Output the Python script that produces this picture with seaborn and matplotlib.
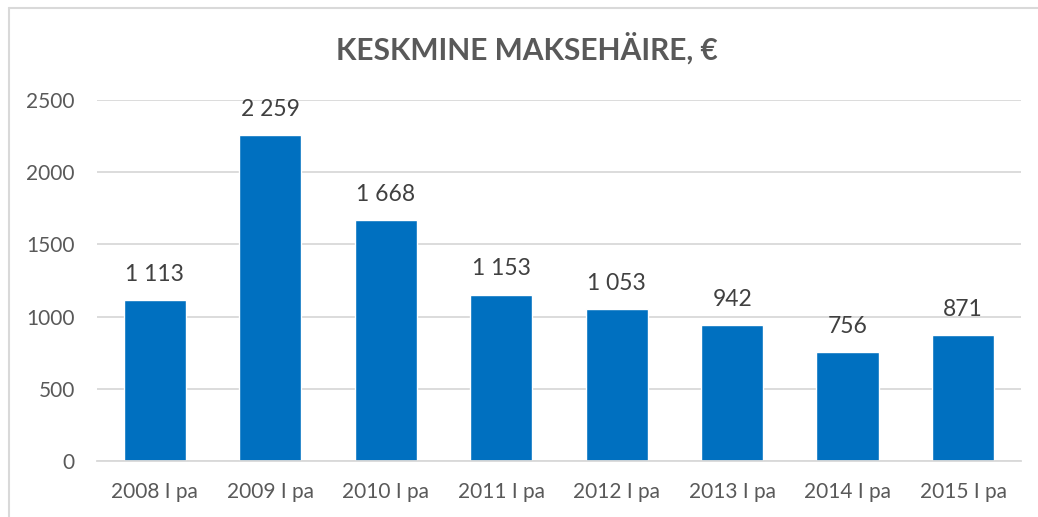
import matplotlib
matplotlib.use('Agg')
import matplotlib.pyplot as plt
import seaborn as sns
import pandas as pd
from matplotlib.lines import Line2D

# ------------------------------------------------------
# INPUTS
# ------------------------------------------------------

periods = ['2008 I pa', '2009 I pa', '2010 I pa', '2011 I pa',
           '2012 I pa', '2013 I pa', '2014 I pa', '2015 I pa']
values = [1113, 2259, 1668, 1153, 1053, 942, 756, 871]
yticks = [0, 500, 1000, 1500, 2000, 2500]

title = 'KESKMINE MAKSEHÄIRE, €'
bar_color = '#0070C0'
text_color = '#595959'
grid_color = '#D9D9D9'

# ------------------------------------------------------
# PLOT
# ------------------------------------------------------

sns.set_style('white')
plt.rcParams['font.family'] = ['Lato', 'DejaVu Sans']

df = pd.DataFrame({'period': periods, 'value': values})

fig = plt.figure(figsize=(10.38, 5.17), dpi=100)
ax = fig.add_axes([0.0935, 0.1083, 0.89, 0.6983])

sns.barplot(data=df, x='period', y='value', color=bar_color, width=0.54,
            saturation=1, ax=ax)

ax.set_ylim(0, 2500)
ax.set_xlim(-0.5, len(periods) - 0.5)
ax.set_yticks(yticks)
ax.set_yticklabels([str(t) for t in yticks])
ax.yaxis.grid(True, color=grid_color, linewidth=1.3)
ax.set_axisbelow(True)
for s in ['left', 'right', 'top']:
    ax.spines[s].set_visible(False)
ax.spines['bottom'].set_color(grid_color)
ax.spines['bottom'].set_linewidth(1.3)
ax.tick_params(axis='both', length=0, labelsize=15, colors=text_color)
ax.tick_params(axis='y', pad=16)
ax.tick_params(axis='x', pad=15)
ax.set_xlabel('')
ax.set_ylabel('')

# Data labels with space as thousands separator
for i, v in enumerate(values):
    lbl = '{:,}'.format(v).replace(',', ' ')
    ax.annotate(lbl, (i, v), xytext=(0, 11), textcoords='offset points',
                ha='center', va='bottom', fontsize=16.5, color='#404040')

fig.text(0.508, 0.907, title, ha='center', va='center', fontsize=21.5,
         fontweight='bold', color=text_color)

# Chart area border (top and left visible)
fig.add_artist(Line2D([9 / 1038, 1], [1 - 7.5 / 517, 1 - 7.5 / 517],
                      color=grid_color, linewidth=1.5, transform=fig.transFigure))
fig.add_artist(Line2D([9 / 1038, 9 / 1038], [0, 1 - 7.5 / 517],
                      color=grid_color, linewidth=1.5, transform=fig.transFigure))

plt.savefig('out.png', dpi=100)
plt.close('all')
